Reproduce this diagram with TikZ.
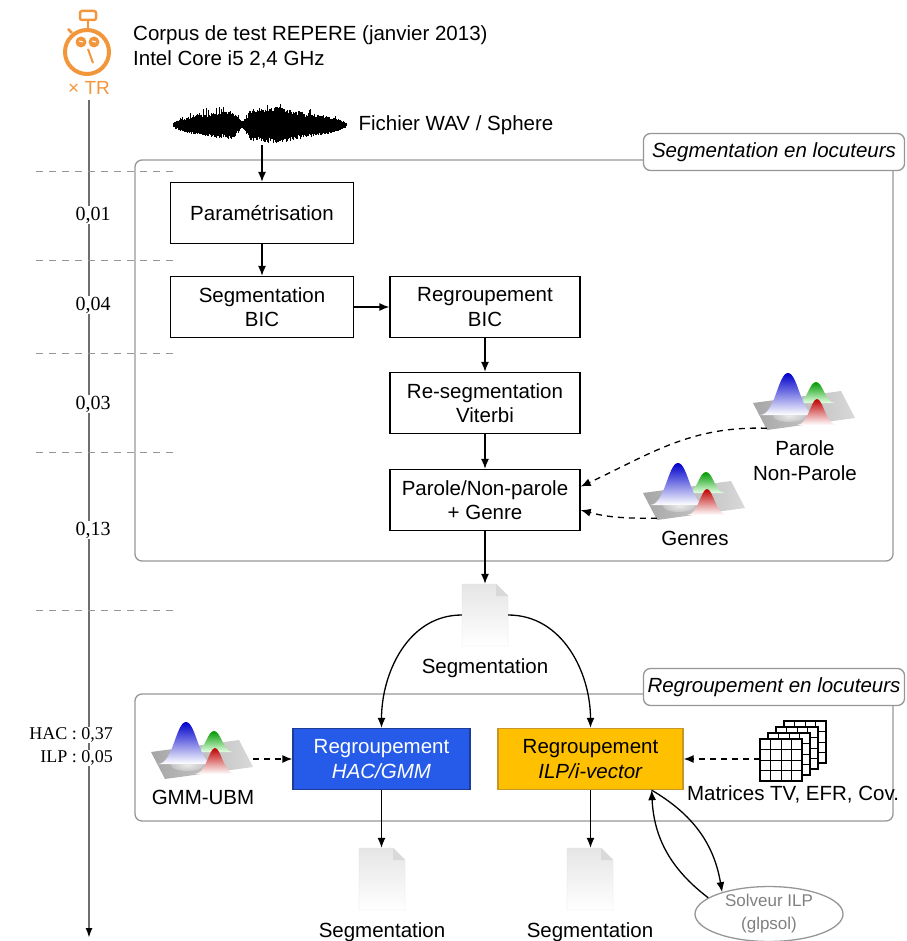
\documentclass[tikz,border=0pt]{standalone}
\usepackage{fontspec}
\setmainfont{Liberation Sans}
\newfontfamily\chiffres{Liberation Serif}
\usetikzlibrary{arrows.meta,positioning,shapes.geometric,calc}

\definecolor{orangeTR}{RGB}{242,150,60}
\definecolor{bleuHAC}{RGB}{38,90,232}
\definecolor{bordHAC}{RGB}{30,60,150}
\definecolor{jauneILP}{RGB}{255,192,0}
\definecolor{bordILP}{RGB}{200,150,40}
\definecolor{gris}{RGB}{150,150,150}
\definecolor{axe}{RGB}{110,110,110}

\tikzset{
  every node/.style={font=\fontsize{20.5}{24.5}\selectfont},
  etape/.style={draw, line width=1.3pt, align=center, inner sep=0pt, minimum width=190pt, minimum height=61pt},
  fleche/.style={-{Latex[length=10pt,width=8pt]}, line width=1.3pt},
  pointille/.style={fleche, dash pattern=on 6pt off 5pt},
  cadre/.style={draw=gris, line width=1.3pt, rounded corners=7pt},
  onglet/.style={draw=gris, line width=1.3pt, rounded corners=7pt, fill=white, minimum width=261pt, minimum height=37pt, font=\fontsize{20.5}{24.5}\selectfont\itshape},
  temps/.style={fill=white, inner sep=1pt, font=\fontsize{20}{24}\selectfont\chiffres},
  repere/.style={draw=gris, line width=1pt, dash pattern=on 7pt off 6pt},
  icone/.style={minimum width=100pt, minimum height=50pt, inner sep=0pt},
  gaussmix/.pic={
    \shade[left color=gray!70, right color=gray!30] (-52,-7) -- (36,-19) -- (50,8) -- (-38,20) -- cycle;
    \shade[inner color=white, outer color=gray!40, opacity=0.7] (-16,6) ellipse (16 and 6);
    \shade[top color=green!60!black, bottom color=green!10!white] (-8,-7) .. controls (2,-7) and (4,-28) .. (11,-28) .. controls (18,-28) and (20,-7) .. (30,-7) -- cycle;
    \shade[top color=blue!80!black, bottom color=white] (-45,5) .. controls (-30,5) and (-27,-37) .. (-17,-37) .. controls (-7,-37) and (-4,5) .. (11,5) -- cycle;
    \shade[top color=red!75!black, bottom color=white] (-8,15) .. controls (3,15) and (6,-11) .. (12,-11) .. controls (18,-11) and (21,15) .. (32,15) -- cycle;
  },
  feuille/.pic={
    \shade[top color=gray!20, bottom color=white, draw=gray!25] (-23,-31) -- (11,-31) -- (23,-19) -- (23,31) -- (-23,31) -- cycle;
    \fill[gray!30] (11,-31) -- (11,-19) -- (23,-19) -- cycle;
  },
  matrices/.pic={
    \foreach \k in {3,2,1,0}{
      \begin{scope}[shift={(8*\k,-6*\k)}]
        \draw[fill=white, line width=1.2pt] (-33,-12) rectangle (9,30);
        \foreach \i in {1,2,3}{
          \draw[line width=0.6pt] (-33+10.5*\i,-12) -- (-33+10.5*\i,30);
          \draw[line width=0.6pt] (-33,-12+10.5*\i) -- (9,-12+10.5*\i);
        }
      \end{scope}
    }
  }
}

\begin{document}
\begin{tikzpicture}[x=1pt,y=-1pt]
  \useasboundingbox (0,0) rectangle (906,941);

  % chronometre et axe du temps
  \draw[orangeTR, line width=4pt] (87,52) circle (22);
  \draw[orangeTR, line width=2.5pt, rounded corners=2pt] (80,11) rectangle (96,20);
  \draw[orangeTR, line width=2.5pt] (88,20) -- (88,29);
  \draw[orangeTR, line width=2.5pt] (68,29) -- (72,33);
  \fill[orangeTR] (81,42) circle (5.5) (94,42) circle (5.5);
  \draw[white, line width=1pt] (79,41) -- (83,42) (92,41) -- (96,42);
  \draw[orangeTR, line width=2pt] (88,49) -- (93,63);
  \node[text=orangeTR, font=\fontsize{19}{22}\selectfont] (tr) at (89,88) {× TR};
  \draw[axe, line width=2pt, -{Latex[length=10pt,width=7pt,color=black]}] (89,100) -- (89,938);

  % en-tete
  \node[anchor=west, align=left, inner sep=0pt] (corpus) at (133,47) {Corpus de test REPERE (janvier 2013)\\Intel Core i5 2,4 GHz};

  % signal audio
  \pgfmathsetseed{12}
  \foreach \x in {173,173.5,...,346}{
    \pgfmathsetmacro{\env}{max(1, 15*sqrt(abs(sin((\x-172)*1.0286))) + 4*max(0,1-abs(\x-275)/30) - 12*max(0,1-abs(\x-242)/9))}
    \pgfmathsetmacro{\haut}{\env*(0.65+0.35*rnd)*(rnd>0.95 ? 1.5 : 1)}
    \pgfmathsetmacro{\bas}{\env*(0.65+0.35*rnd)}
    \draw[line width=0.8pt] (\x,125-\haut) -- (\x,125+\bas);
  }
  \node[minimum width=178pt, minimum height=40pt, inner sep=0pt] (wav) at (260,125) {};
  \node[anchor=west] (fichier) at (355,125) {Fichier WAV / Sphere};

  % cadres
  \draw[cadre] (135,160) rectangle (893,561);
  \node[onglet] (tabseg) at (774,152) {Segmentation en locuteurs};
  \draw[cadre] (135,694) rectangle (893,821);
  \node[onglet] (tabreg) at (774,687) {Regroupement en locuteurs};

  % reperes de temps
  \foreach \y in {172,260,353,452,610}
    \draw[repere] (36,\y) -- (178,\y);
  \node[temps] (t1) at (93,215) {0,01};
  \node[temps] (t2) at (93,305) {0,04};
  \node[temps] (t3) at (93,404) {0,03};
  \node[temps] (t4) at (93,530) {0,13};
  \node[temps, anchor=east, font=\fontsize{18}{22}\selectfont\chiffres] (t5) at (114,735) {HAC : 0,37};
  \node[temps, anchor=east, font=\fontsize{18}{22}\selectfont\chiffres] (t6) at (114,758) {ILP : 0,05};

  % segmentation
  \node[etape, minimum width=183pt] (param) at (262,213) {Paramétrisation};
  \node[etape, minimum width=183pt] (segbic) at (262,307) {Segmentation\\BIC};
  \node[etape] (regbic) at (485,307) {Regroupement\\BIC};
  \node[etape] (viterbi) at (485,403) {Re-segmentation\\Viterbi};
  \node[etape] (parole) at (485,500) {Parole/Non-parole\\+ Genre};

  \node[icone] (gparole) at (805,410) {};
  \pic at (gparole) {gaussmix};
  \node[below=2pt of gparole, align=center] (lparole) {Parole\\Non-Parole};
  \node[icone] (ggenres) at (695,500) {};
  \pic at (ggenres) {gaussmix};
  \node[below=2pt of ggenres] (lgenres) {Genres};

  \draw[fleche] (wav.south) ++(2,0) -- (param.north);
  \draw[fleche] (param) -- (segbic);
  \draw[fleche] (segbic) -- (regbic);
  \draw[fleche] (regbic) -- (viterbi);
  \draw[fleche] (viterbi) -- (parole);
  \draw[pointille] ([xshift=12pt]gparole.200) to[out=178, in=25] (parole.8);
  \draw[pointille] ([xshift=12pt]ggenres.200) to[out=180, in=-15] (parole.-6);

  % segmentation intermediaire
  \node[minimum width=46pt, minimum height=62pt, inner sep=0pt] (doc1) at (485,615) {};
  \pic at (doc1) {feuille};
  \node[below=9pt of doc1] (ldoc1) {Segmentation};
  \draw[fleche] (parole) -- (doc1);

  % regroupement
  \node[etape, fill=bleuHAC, draw=bordHAC, text=white, minimum width=177pt] (hac) at (381.5,759) {Regroupement\\\textit{HAC/GMM}};
  \node[etape, fill=jauneILP, draw=bordILP, minimum width=185pt] (ilp) at (590.5,759) {Regroupement\\\textit{ILP/i-vector}};
  \draw[fleche] (doc1.west) to[out=180, in=90] (hac.north);
  \draw[fleche] (doc1.east) to[out=0, in=90] (ilp.north);

  \node[icone] (ggmm) at (203,759) {};
  \pic at (ggmm) {gaussmix};
  \node[below=2pt of ggmm] (lgmm) {GMM-UBM};
  \draw[pointille] (ggmm.east) -- (hac.west);

  \node[minimum width=66pt, minimum height=60pt, inner sep=0pt] (mat) at (793,751) {};
  \pic at (mat) {matrices};
  \node[below=1pt of mat] (lmat) {Matrices TV, EFR, Cov.};
  \draw[pointille] (ilp.east -| mat.west) -- (ilp.east);

  \node[ellipse, draw=gris, line width=1.3pt, text=gray, inner sep=0pt, minimum width=148pt, minimum height=52pt, align=center, font=\fontsize{17}{23}\selectfont] (solveur) at (769,914) {Solveur ILP\\(glpsol)};
  \draw[fleche] (ilp.-27) to[bend left=25] (solveur.155);
  \draw[fleche] (solveur.165) to[bend left=25] (ilp.-27);

  % segmentations finales
  \node[minimum width=46pt, minimum height=62pt, inner sep=0pt] (doc2) at (382,879) {};
  \pic at (doc2) {feuille};
  \node[below=9pt of doc2] (ldoc2) {Segmentation};
  \node[minimum width=46pt, minimum height=62pt, inner sep=0pt] (doc3) at (590,879) {};
  \pic at (doc3) {feuille};
  \node[below=9pt of doc3] (ldoc3) {Segmentation};
  \draw[fleche] (hac.south) -- (hac.south |- doc2.north);
  \draw[fleche] (ilp.south) -- (ilp.south |- doc3.north);
\end{tikzpicture}
\end{document}
